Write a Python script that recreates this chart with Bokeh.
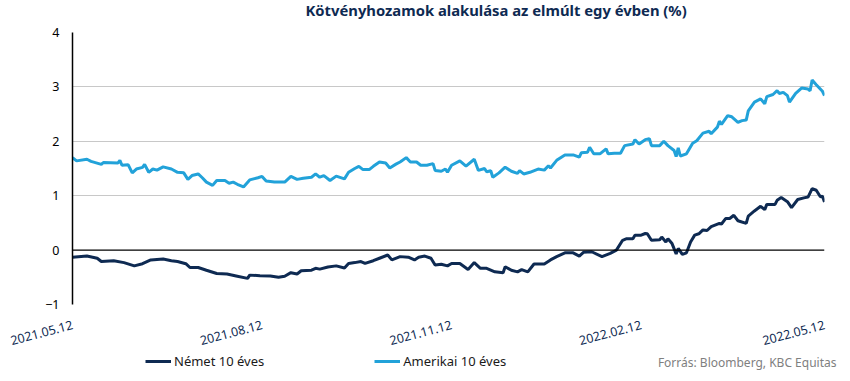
import pandas as pd
from bokeh.plotting import figure
from bokeh.layouts import column, row
from bokeh.models import (FixedTicker, DatetimeTickFormatter, Span, Legend, LegendItem,
                          Range1d, Label)
from bokeh.embed import file_html
from bokeh.resources import INLINE

start_date = "2021-05-12"
end_date = "2022-05-12"
tick_dates = ["2021-05-12", "2021-08-12", "2021-11-12", "2022-02-12", "2022-05-12"]
y_ticks = [-1, 0, 1, 2, 3, 4]

title_text = "Kötvényhozamok alakulása az elmúlt egy évben (%)"
de_label = "Német 10 éves"
us_label = "Amerikai 10 éves"
source_text = "Forrás: Bloomberg, KBC Equitas"

# days since 2021-05-12
us_days = [0, 2, 7, 9, 14, 15, 22, 23, 24, 27, 29, 31, 34, 35, 37, 39, 41, 44, 48, 51,
           54, 56, 58, 61, 63, 65, 68, 70, 74, 76, 78, 80, 83, 86, 90, 92, 94, 96, 98, 103,
           106, 109, 112, 116, 118, 120, 122, 125, 128, 132, 134, 137, 139, 141, 144, 146,
           149, 152, 154, 157, 159, 162, 164, 167, 169, 172, 175, 176, 179, 181, 182, 184,
           188, 191, 195, 197, 200, 201, 203, 204, 207, 210, 213, 216, 217, 219, 222, 226,
           229, 231, 232, 235, 239, 243, 246, 247, 250, 251, 253, 256, 259, 260, 263, 266,
           268, 272, 273, 275, 278, 280, 281, 285, 287, 289, 292, 293, 294, 295, 298, 301,
           303, 306, 309, 310, 313, 314, 315, 318, 320, 323, 325, 327, 328, 331, 334, 336,
           337, 340, 342, 343, 345, 347, 348, 351, 354, 357, 358, 359, 361, 364, 365]
us_vals = [1.70, 1.64, 1.67, 1.63, 1.575, 1.61, 1.60, 1.65, 1.56, 1.57, 1.42, 1.49, 1.52,
           1.575, 1.43, 1.49, 1.47, 1.53, 1.49, 1.43, 1.42, 1.30, 1.37, 1.40, 1.33, 1.25,
           1.19, 1.28, 1.28, 1.23, 1.25, 1.21, 1.16, 1.29, 1.33, 1.355, 1.27, 1.26, 1.25,
           1.25, 1.355, 1.30, 1.32, 1.34, 1.40, 1.34, 1.37, 1.28, 1.36, 1.31, 1.43, 1.50,
           1.54, 1.48, 1.48, 1.54, 1.62, 1.60, 1.51, 1.58, 1.62, 1.70, 1.62, 1.62, 1.56,
           1.56, 1.59, 1.465, 1.45, 1.49, 1.43, 1.56, 1.64, 1.545, 1.67, 1.465, 1.50, 1.44,
           1.46, 1.34, 1.42, 1.525, 1.45, 1.41, 1.46, 1.40, 1.43, 1.49, 1.47, 1.55, 1.51,
           1.65, 1.75, 1.75, 1.71, 1.79, 1.80, 1.89, 1.77, 1.77, 1.86, 1.77, 1.78, 1.78,
           1.92, 1.95, 2.03, 1.95, 2.03, 2.05, 1.92, 1.92, 2.00, 1.92, 1.83, 1.72, 1.88,
           1.73, 1.77, 1.965, 2.01, 2.15, 2.185, 2.14, 2.26, 2.37, 2.31, 2.47, 2.45, 2.35,
           2.38, 2.39, 2.56, 2.72, 2.78, 2.69, 2.82, 2.86, 2.93, 2.88, 2.90, 2.84, 2.72,
           2.88, 2.98, 2.96, 2.93, 3.125, 3.04, 2.92, 2.84]

de_days = [0, 7, 12, 14, 20, 25, 30, 34, 38, 44, 48, 51, 55, 57, 61, 65, 70, 75, 80, 85,
           86, 91, 96, 100, 103, 106, 109, 111, 116, 118, 120, 124, 128, 132, 134, 137, 140,
           142, 146, 149, 153, 155, 159, 163, 166, 168, 171, 174, 176, 179, 182, 184, 188,
           192, 195, 198, 201, 205, 209, 210, 213, 216, 218, 221, 224, 229, 232, 235, 239,
           243, 246, 248, 252, 257, 261, 264, 267, 269, 272, 273, 276, 278, 279, 281, 285,
           286, 288, 289, 291, 293, 294, 296, 298, 300, 302, 304, 306, 308, 310, 314, 315,
           317, 319, 321, 323, 327, 328, 331, 334, 336, 337, 341, 342, 344, 347, 349, 352,
           355, 357, 359, 361, 363, 364, 365]
de_vals = [-0.13, -0.11, -0.15, -0.21, -0.195, -0.23, -0.29, -0.25, -0.18, -0.165, -0.195,
           -0.21, -0.25, -0.32, -0.32, -0.37, -0.43, -0.44, -0.48, -0.52, -0.46, -0.47,
           -0.475, -0.50, -0.48, -0.415, -0.44, -0.38, -0.37, -0.335, -0.35, -0.31, -0.29,
           -0.33, -0.245, -0.23, -0.21, -0.245, -0.195, -0.15, -0.09, -0.18, -0.12, -0.13,
           -0.18, -0.13, -0.11, -0.15, -0.275, -0.26, -0.29, -0.245, -0.245, -0.355, -0.23,
           -0.335, -0.335, -0.40, -0.415, -0.305, -0.37, -0.40, -0.36, -0.40, -0.255, -0.255,
           -0.18, -0.12, -0.05, -0.05, -0.11, -0.04, -0.03, -0.12, -0.06, 0.0, 0.18, 0.21,
           0.21, 0.275, 0.275, 0.305, 0.30, 0.18, 0.19, 0.24, 0.15, 0.21, 0.12, -0.07, 0.03,
           -0.08, -0.05, 0.15, 0.275, 0.30, 0.37, 0.36, 0.43, 0.49, 0.48, 0.58, 0.58, 0.64,
           0.54, 0.49, 0.625, 0.72, 0.805, 0.745, 0.84, 0.84, 0.915, 0.965, 0.89, 0.78, 0.93,
           0.96, 0.975, 1.13, 1.10, 0.98, 0.99, 0.885]

NAVY = "#0e2a52"
BLUE = "#22a2d9"
FONT = "Noto Sans"


def strip(height):
    f = figure(width=842, height=height, output_backend="svg", toolbar_location=None,
               x_range=Range1d(0, 1), y_range=Range1d(0, 1),
               x_axis_location=None, y_axis_location=None,
               min_border_left=0, min_border_right=0, min_border_top=0, min_border_bottom=0)
    f.grid.visible = False
    f.outline_line_color = None
    f.border_fill_color = "white"
    return f


t0 = pd.Timestamp(start_date)
us_x = t0 + pd.to_timedelta(us_days, unit="D")
de_x = t0 + pd.to_timedelta(de_days, unit="D")

# ---------- title strip ----------
top = strip(24)
top.add_layout(Label(x=305, y=15, x_units="screen", y_units="screen", text=title_text,
                     text_align="left", text_baseline="middle", text_font=FONT,
                     text_font_size="14.8px", text_font_style="bold", text_color=NAVY))

# ---------- main chart ----------
p = figure(width=842, height=328, x_axis_type="datetime", output_backend="svg",
           toolbar_location=None,
           x_range=Range1d(t0, pd.Timestamp(end_date)), y_range=Range1d(y_ticks[0], y_ticks[-1]),
           min_border_left=72, min_border_right=18, min_border_top=8, min_border_bottom=47)
p.outline_line_color = None
p.background_fill_color = "white"
p.border_fill_color = "white"

p.xgrid.grid_line_color = None
p.ygrid.ticker = FixedTicker(ticks=[t for t in y_ticks if t != 0])
p.ygrid.grid_line_color = "#c8c8c8"
p.ygrid.grid_line_width = 1

p.add_layout(Span(location=0, dimension="width", line_color="black", line_width=1.3))

r_de = p.line(de_x, de_vals, line_width=3, color=NAVY)
r_us = p.line(us_x, us_vals, line_width=3, color=BLUE)

p.xaxis.ticker = FixedTicker(ticks=[pd.Timestamp(d).value / 1e6 for d in tick_dates])
fmt = "%Y.%m.%d"
p.xaxis.formatter = DatetimeTickFormatter(days=fmt, months=fmt, years=fmt, hours=fmt,
                                          hourmin=fmt, minutes=fmt, minsec=fmt, seconds=fmt,
                                          milliseconds=fmt, microseconds=fmt)
p.xaxis.axis_line_color = None
p.xaxis.major_tick_line_color = None
p.xaxis.minor_tick_line_color = None
p.xaxis.major_tick_out = 0
p.xaxis.major_label_orientation = 0.26
p.xaxis.major_label_text_font = FONT
p.xaxis.major_label_text_font_size = "12.5px"
p.xaxis.major_label_text_color = NAVY
p.xaxis.major_label_standoff = 20

p.yaxis.ticker = FixedTicker(ticks=y_ticks)
p.yaxis.axis_line_color = "black"
p.yaxis.axis_line_width = 1.5
p.yaxis.major_tick_line_color = None
p.yaxis.minor_tick_line_color = None
p.yaxis.major_tick_out = 0
p.yaxis.major_label_standoff = 13
p.yaxis.major_label_text_font = FONT
p.yaxis.major_label_text_font_size = "12.5px"
p.yaxis.major_label_text_color = "black"

# ---------- legend / source strip ----------
leg = strip(21)
leg_de = leg.line(x=[float("nan")], y=[float("nan")], line_width=3, color=NAVY)
leg_us = leg.line(x=[float("nan")], y=[float("nan")], line_width=3, color=BLUE)
legend = Legend(items=[LegendItem(label=de_label, renderers=[leg_de]),
                       LegendItem(label=us_label, renderers=[leg_us])],
                orientation="horizontal", location=(145, 3),
                glyph_width=26, glyph_height=18, label_standoff=3, spacing=110,
                label_height=18,
                padding=0, margin=0, border_line_color=None, background_fill_alpha=0,
                label_text_font=FONT, label_text_font_size="13px", label_text_color="#1a1a1a")
leg.add_layout(legend)
leg.add_layout(Label(x=836, y=11, x_units="screen", y_units="screen", text=source_text,
                     text_align="right", text_baseline="middle", text_font=FONT,
                     text_font_size="12px", text_color="#808080"))

layout = column(row(top), p, row(leg), spacing=0)
html = file_html(layout, INLINE)
open("out.html", "w").write(html)
